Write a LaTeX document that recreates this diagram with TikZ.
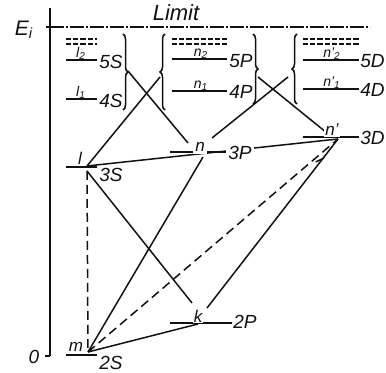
\documentclass[tikz,border=0pt]{standalone}
\usepackage{fontspec}
\setmainfont{Liberation Sans}
\usepackage{xcolor}
\definecolor{ink}{HTML}{111111}
\usepackage{tikz}
\usetikzlibrary{arrows.meta,decorations.pathreplacing,decorations.markings}

\begin{document}
\begin{tikzpicture}[x=0.5pt,y=-0.5pt,font=\itshape,ink,
  lvl/.style={line width=1.1pt},
  hilvl/.style={line width=0.8pt,dash pattern=on 2.6pt off 1pt},
  conn/.style={line width=0.75pt},
  dconn/.style={conn,dash pattern=on 4.5pt off 2.5pt},
  brc/.style={line width=0.75pt,decorate,decoration={brace,amplitude=2.5pt}},
  term/.style={font=\itshape\fontsize{9.5}{10}\selectfont,anchor=west,inner sep=1pt},
  tag/.style={font=\itshape\fontsize{8.5}{9}\selectfont,inner sep=1pt},
  subtag/.style={font=\itshape\fontsize{7}{7}\selectfont,inner sep=0.5pt,anchor=south}]
  \useasboundingbox (0,0) rectangle (386,373);
  % end points of the transitions
  \coordinate (tS) at (128,71);
  \coordinate (tPl) at (160,77);
  \coordinate (tPr) at (258,77);
  \coordinate (tDl) at (288,77);
  \coordinate (l-a) at (87,166);
  \coordinate (l-b) at (87,171);
  \coordinate (n-a) at (188,143);
  \coordinate (n-b) at (212,138);
  \coordinate (n-c) at (203,157);
  \coordinate (np-a) at (327,133);
  \coordinate (np-b) at (338,139);
  \coordinate (k-a) at (192,303);
  \coordinate (k-b) at (207,308);
  \coordinate (k-c) at (198,324);
  \coordinate (m-a) at (88,352);
  % transitions
  \draw[conn] (tS) -- (n-a);
  \draw[conn] (tPl) -- (l-a);
  \draw[conn] (tPr) -- (np-a);
  \draw[conn] (tDl) -- (n-b);
  \draw[conn] (l-a) -- (np-b);
  \draw[conn] (l-b) -- (k-a);
  \draw[dconn] (l-b) -- (m-a);
  \draw[conn] (m-a) -- (n-c);
  \draw[dconn] (m-a) -- (np-b);
  \draw[conn,postaction={decorate},decoration={markings,
     mark=at position 0.9 with {\arrow{Straight Barb[harpoon,length=3.5pt,width=3.5pt]}}}]
     (k-b) -- (np-b);
  \draw[conn] (m-a) -- (k-c);
  % energy axis
  \draw[line width=0.8pt] (50,8) -- (50,356);
  \draw[line width=0.8pt] (46,27) -- (54,27);
  \draw[line width=0.8pt] (45,356) -- (50,356);
  \node[font=\itshape\fontsize{10.5}{12}\selectfont] (Ei) at (24,30) {E\textsubscript{i}};
  \node[term,anchor=center] (zero) at (34,357) {0};
  % series limit
  \draw[line width=0.75pt,dash pattern=on 7pt off 1.2pt on 0.6pt off 1.2pt] (50,27) -- (370,27);
  \node[font=\itshape\fontsize{11}{12}\selectfont] (limit) at (176,13) {Limit};
  % crowded levels below the limit
  \foreach \xa/\xb in {66/97,172/227,303/360} {
    \draw[hilvl] (\xa,39) -- (\xb,39);
    \draw[hilvl] (\xa,44) -- (\xb,44);
  }
  % S series
  \draw[lvl] (66,60) -- (97,60);
  \draw[lvl] (66,99) -- (97,99);
  \node[subtag] (l2) at (81,61) {l\textsubscript{2}};
  \node[subtag] (l1) at (81,100) {l\textsubscript{1}};
  \node[term] (5S) at (97,62) {5S};
  \node[term] (4S) at (97,101) {4S};
  \draw[brc] (123,34) -- (123,110);
  % P series
  \draw[lvl] (172,59) -- (227,59);
  \draw[lvl] (172,91) -- (227,91);
  \node[subtag] (n2) at (201,60) {n\textsubscript{2}};
  \node[subtag] (n1) at (201,92) {n\textsubscript{1}};
  \node[term] (5P) at (227,61) {5P};
  \node[term] (4P) at (227,92) {4P};
  \draw[brc] (165,110) -- (165,34);
  \draw[brc] (253,34) -- (253,104);
  % D series
  \draw[lvl] (303,60) -- (359,60);
  \draw[lvl] (303,89) -- (359,89);
  \node[subtag] (np2) at (332,61) {n'\textsubscript{2}};
  \node[subtag] (np1) at (332,90) {n'\textsubscript{1}};
  \node[term,inner sep=0pt] (5D) at (360,61) {5D};
  \node[term,inner sep=0pt] (4D) at (360,90) {4D};
  \draw[brc] (297,104) -- (297,34);
  % low levels
  \draw[lvl] (66,167) -- (97,167);
  \node[tag] (l) at (80,158) {l};
  \node[term] (3S) at (97,175) {3S};
  \draw[lvl] (170,152) -- (226,152);
  \node[tag,fill=white] (n) at (200,147) {n};
  \node[term,fill=white] (3P) at (226,153) {3P};
  \draw[lvl] (303,137) -- (359,137);
  \node[tag,fill=white,inner sep=0.5pt] (np) at (332,130) {n'};
  \node[term,inner sep=0pt] (3D) at (360,138) {3D};
  \draw[lvl] (170,323) -- (232,323);
  \node[tag,fill=white,inner sep=0.5pt] (k) at (198,316) {k};
  \node[term] (2P) at (231,322) {2P};
  \draw[lvl] (66,355) -- (97,355);
  \node[tag] (m) at (76,347) {m};
  \node[term] (2S) at (97,363) {2S};
\end{tikzpicture}
\end{document}
